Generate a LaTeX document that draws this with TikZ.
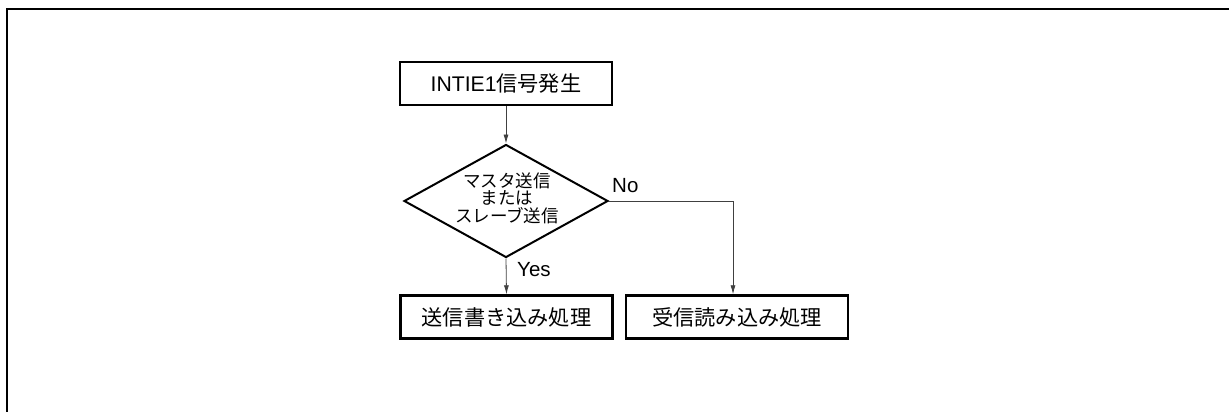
\documentclass[tikz,border=0pt]{standalone}
\usepackage{fontspec}
\setmainfont{Liberation Sans}
\newfontfamily\cjk{Noto Sans CJK JP}
\usetikzlibrary{shapes.geometric,arrows.meta}
\begin{document}
\begin{tikzpicture}[x=1pt,y=-1pt,
  procbox/.style={draw,line width=2.4pt,minimum width=212pt,minimum height=43pt,inner sep=0pt,font=\fontsize{21.2}{23}\selectfont},
  decide/.style={draw,diamond,line width=2pt,aspect=1.8,minimum width=204pt,minimum height=113pt,inner sep=0pt},
  arr/.style={draw=black!75,line width=0.8pt,-{Latex[length=9pt,width=5pt]}},
  lbl/.style={font=\fontsize{20.5}{22}\selectfont,inner sep=0pt}]
\useasboundingbox (0,0) rectangle (1229,412);
\draw[line width=2pt] (1229,9) -- (7,9) -- (7,412);
\node[procbox] (start) at (506,83.5) {INTIE1{\cjk 信号発生}};
\node[decide] (dia) at (506,201) {};
\node[font=\cjk\fontsize{17.5}{17.5}\selectfont,align=center,inner sep=0pt] (diat) at (507,198) {マスタ送信\\または\\スレーブ送信};
\node[procbox] (tx) at (506.5,317) {\cjk 送信書き込み処理};
\node[procbox,minimum width=222pt] (rx) at (737,317) {\cjk 受信読み込み処理};
\coordinate (nx) at (733,0);
\draw[arr] (start.south) -- (dia.north);
\draw[arr] (dia.south) -- (tx.north);
\draw[arr] (dia.east) -| (nx |- rx.north);
\node[lbl,anchor=west] (yes) at (517,270) {Yes};
\node[lbl,anchor=west] (no) at (612,186) {No};
\end{tikzpicture}
\end{document}
